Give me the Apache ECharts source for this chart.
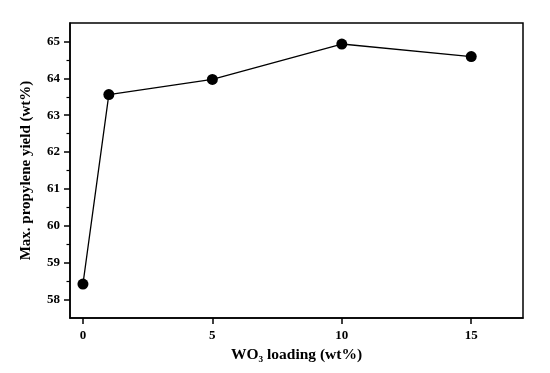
<!DOCTYPE html>
<html>
<head>
<meta charset="utf-8">
<script src="https://cdn.jsdelivr.net/npm/echarts@6/dist/echarts.min.js"></script>
<style>
html, body { margin: 0; padding: 0; background: #fff; }
#chart { width: 550px; height: 373px; }
</style>
</head>
<body>
<div id="chart"></div>
<script>
var loading = [0, 1, 5, 10, 15];
var yieldValues = [58.42, 63.56, 63.97, 64.93, 64.59];
var xTicks = [0, 5, 10, 15];
var yTicks = [58, 59, 60, 61, 62, 63, 64, 65];
var yMinorTicks = [58.5, 59.5, 60.5, 61.5, 62.5, 63.5, 64.5];

window.onload = function () {
    showChart();
};

function showChart() {
    var myChart = echarts.init(document.getElementById('chart'));
    var font = 'Liberation Serif';
    var points = loading.map(function (x, i) { return [x, yieldValues[i]]; });

    var option = {
        animation: false,
        grid: {
            left: 70,
            right: 27,
            top: 23,
            bottom: 55,
            show: true,
            borderColor: '#000',
            borderWidth: 1.5
        },
        xAxis: {
            type: 'value',
            min: -0.5,
            max: 17,
            name: 'WO\u2083 loading (wt%)',
            nameLocation: 'middle',
            nameGap: 28,
            nameTextStyle: { fontFamily: font, fontWeight: 'bold', fontSize: 15.5, color: '#000' },
            axisLine: { show: true, onZero: false, lineStyle: { color: '#000', width: 1.5 } },
            axisTick: { show: true, length: 6, customValues: xTicks, lineStyle: { color: '#000', width: 1.5 } },
            axisLabel: { customValues: xTicks, fontFamily: font, fontWeight: 'bold', fontSize: 13, color: '#000', margin: 11 },
            splitLine: { show: false }
        },
        yAxis: [
            {
                type: 'value',
                min: 57.5,
                max: 65.5,
                name: 'Max. propylene yield (wt%)',
                nameLocation: 'middle',
                nameGap: 36,
                nameTextStyle: { fontFamily: font, fontWeight: 'bold', fontSize: 15, color: '#000' },
                axisLine: { show: true, onZero: false, lineStyle: { color: '#000', width: 1.5 } },
                axisTick: { show: true, length: 6, customValues: yTicks, lineStyle: { color: '#000', width: 1.5 } },
                axisLabel: { customValues: yTicks, fontFamily: font, fontWeight: 'bold', fontSize: 13, color: '#000', margin: 10 },
                splitLine: { show: false }
            },
            {
                type: 'value',
                position: 'left',
                offset: 0,
                min: 57.5,
                max: 65.5,
                axisLine: { show: false, onZero: false },
                axisTick: { show: true, length: 3.5, customValues: yMinorTicks, lineStyle: { color: '#000', width: 1.2 } },
                axisLabel: { show: false },
                splitLine: { show: false }
            }
        ],
        series: [
            {
                type: 'line',
                data: points,
                symbol: 'circle',
                symbolSize: 11,
                itemStyle: { color: '#000' },
                lineStyle: { color: '#000', width: 1.3 }
            }
        ]
    };

    myChart.setOption(option);
}
</script>
</body>
</html>
